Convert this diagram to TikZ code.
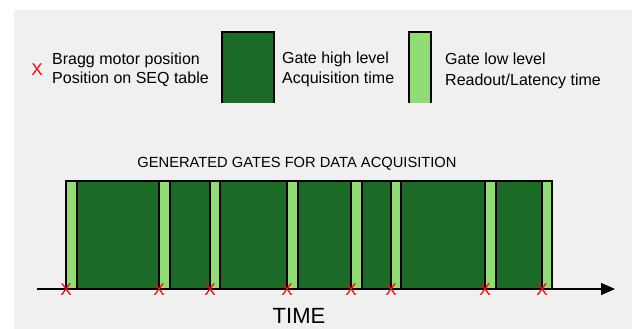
\documentclass[tikz,border=0pt]{standalone}
\usepackage{fontspec}
\setmainfont{Liberation Sans}
\usetikzlibrary{arrows.meta}
\usetikzlibrary{positioning}
\definecolor{gatedark}{HTML}{1B6A25}
\definecolor{gatelight}{HTML}{92DC76}
\definecolor{panel}{HTML}{F0F0F0}
\tikzset{hi/.style = {fill = gatedark, draw = black, line width = 1.4pt}}
\tikzset{lo/.style = {fill = gatelight, draw = black, line width = 1.4pt}}
\tikzset{bragg/.style = {text = red, inner sep = 0, font = \fontsize{17}{17}\selectfont}}
\tikzset{legend/.style = {anchor = base west, inner sep = 0, font = \fontsize{16}{19}\selectfont}}

\begin{document}
\begin{tikzpicture}[x = 1pt, y = -1pt]
      \useasboundingbox (0, 0) rectangle (632, 329);
      \fill [panel] (14, 10) rectangle (632, 329);
      % legend
      \node [bragg] (key) at (37, 70) {X};
      \node [legend] (bragg1) at (52, 65) {Bragg motor position};
      \node [legend] (bragg2) at (52, 84) {Position on SEQ table};
      \fill [gatedark] (222, 32) rectangle (274, 103);
      \draw [line width = 1.4pt] (222, 103) |- (274, 32) -- (274, 103);
      \node [legend] (high1) at (282, 64) {Gate high level};
      \node [legend] (high2) at (282, 84) {Acquisition time};
      \fill [gatelight] (409, 32) rectangle (431, 103);
      \draw [line width = 1.4pt] (409, 103) |- (431, 32) -- (431, 103);
      \node [legend] (low1) at (445, 65) {Gate low level};
      \node [legend] (low2) at (445, 85) {Readout/Latency time};
      % gates
      \node [anchor = base, inner sep = 0, font = \fontsize{14.7}{15}\selectfont] (title) at (297, 167.7) {GENERATED GATES FOR DATA ACQUISITION};
      \coordinate (t0) at (37, 289);
      \coordinate (t1) at (615, 289);
      \draw [line width = 1.4pt, -{Triangle[length = 14pt, width = 12pt]}] (t0) -- (t1);
      \foreach \a/\b/\s in {66/77/lo, 77/159/hi, 159/170/lo, 170/210/hi, 210/220/lo, 220/287/hi, 287/298/lo, 298/351/hi,
                            351/362/lo, 362/391/hi, 391/401/lo, 401/485/hi, 485/496/lo, 496/542/hi, 542/552/lo}
        \draw [\s] (\a, 181) rectangle (\b, 289);
      \foreach \a in {66, 159, 210, 287, 351, 391, 485, 542}
        \node [bragg] (x\a) at (\a, 290) {X};
      \node [anchor = base, inner sep = 0, font = \fontsize{22}{22}\selectfont] (time) at (299, 323.3) {TIME};
    \end{tikzpicture}
\end{document}
